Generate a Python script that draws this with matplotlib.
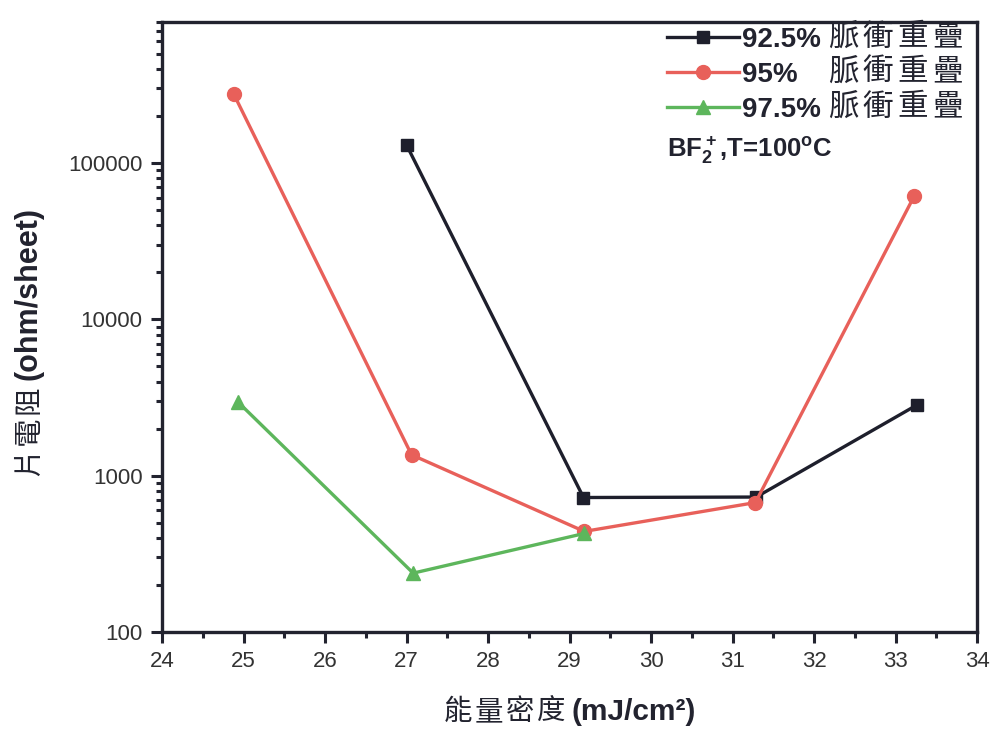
import matplotlib
matplotlib.use("Agg")
import matplotlib.pyplot as plt
from matplotlib.ticker import LogLocator, NullFormatter, FixedLocator, MultipleLocator, FuncFormatter

plt.rcParams['font.family'] = ['Liberation Sans', 'Noto Sans CJK TC']
plt.rcParams['mathtext.fontset'] = 'custom'
plt.rcParams['mathtext.rm'] = 'Liberation Sans:bold'
plt.rcParams['mathtext.bf'] = 'Liberation Sans:bold'
plt.rcParams['mathtext.default'] = 'bf'

# data
x_925 = [27.0, 29.17, 31.29, 33.26]
y_925 = [130000, 725, 730, 2830]
x_95 = [24.88, 27.06, 29.18, 31.28, 33.23]
y_95 = [275000, 1360, 440, 673, 61700]
x_975 = [24.93, 27.08, 29.18]
y_975 = [2960, 238, 427]

labels = ["92.5%", "95%", "97.5%"]
cjk = "脈衝重疊"
note = r"BF$_2^+$,T=100$^o$C"
xlab_cjk, xlab_en = "能量密度", "(mJ/cm²)"
ylab_cjk, ylab_en = "片電阻", "(ohm/sheet)"

ink = "#22232f"
c_black = "#1e1f2c"
c_red = "#e8605a"
c_green = "#5db65c"

W, H = 995, 736
fig = plt.figure(figsize=(W / 100, H / 100), dpi=100)
ax = fig.add_axes([0.163, 0.1413, 0.819, 0.829])


def px(x, y):
    return x / W, 1 - y / H


ax.plot(x_925, y_925, color=c_black, lw=2.4, marker='s', ms=8.5, label=labels[0])
ax.plot(x_95, y_95, color=c_red, lw=2.4, marker='o', ms=10, label=labels[1])
ax.plot(x_975, y_975, color=c_green, lw=2.4, marker='^', ms=10, label=labels[2])

ax.set_yscale('log')
ax.set_xlim(24, 34)
ax.set_ylim(100, 8e5)
ax.xaxis.set_major_locator(MultipleLocator(1))
ax.xaxis.set_minor_locator(MultipleLocator(0.5))
ax.yaxis.set_major_locator(FixedLocator([100, 1000, 10000, 100000]))
ax.yaxis.set_major_formatter(FuncFormatter(lambda v, p: "%d" % v))
ax.yaxis.set_minor_locator(LogLocator(base=10, subs=range(2, 10)))
ax.yaxis.set_minor_formatter(NullFormatter())

for s in ax.spines.values():
    s.set_linewidth(2.4)
    s.set_color(ink)
ax.tick_params(which='major', direction='out', length=8, width=2.2, color=ink,
               labelsize=16, labelcolor='#333333', pad=6)
ax.tick_params(which='minor', direction='out', length=4.5, width=2.2, color=ink)

# axis labels: CJK part regular and spaced, latin part bold
for i, ch in enumerate(xlab_cjk):
    fig.text(*px(458 + i * 31, 712), ch, fontsize=20.5, color=ink, ha='center', va='center',
             family=['Noto Sans CJK TC'])
fig.text(*px(572, 712), xlab_en, fontsize=21.5, fontweight='bold', color=ink,
         ha='left', va='center')
for i, ch in enumerate(ylab_cjk):
    fig.text(*px(29, 462 - i * 31), ch, fontsize=20.5, color=ink, ha='center', va='center',
             rotation=90, family=['Noto Sans CJK TC'])
fig.text(*px(29, 380), ylab_en, fontsize=22, fontweight='bold', color=ink,
         ha='center', va='bottom', rotation=90)

leg = ax.legend(loc='upper left', bbox_to_anchor=(0.609, 1.005), frameon=False,
                prop={'size': 20, 'weight': 'bold'}, handlelength=2.6,
                handletextpad=0.1, labelspacing=0.32, borderaxespad=0, borderpad=0.3)
for t in leg.get_texts():
    t.set_color(ink)

for r, yy in enumerate([37, 72, 107]):
    for i, ch in enumerate(cjk):
        fig.text(*px(843 + i * 35, yy), ch, fontsize=22, color=ink, ha='center',
                 va='center', family=['Noto Sans CJK TC'])

fig.text(*px(667, 150), note, fontsize=18.5, color=ink, fontweight='bold',
         va='center', ha='left')

fig.savefig("out.png", dpi=100)
